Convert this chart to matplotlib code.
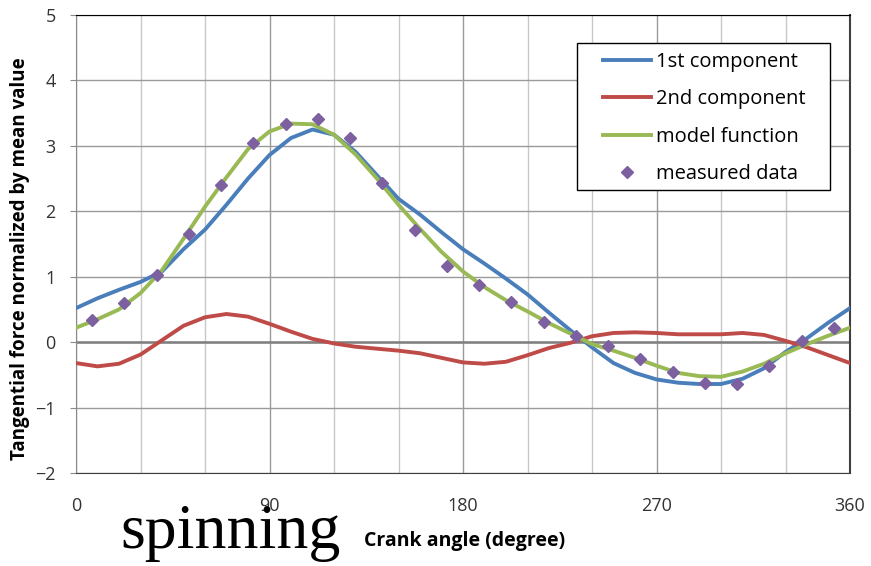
import numpy as np
import matplotlib.pyplot as plt
from matplotlib.ticker import MultipleLocator
from matplotlib.patches import Rectangle

# crank angle for the curves (every 10 degrees)
angle = list(range(0, 361, 10))
first_comp = [0.52, 0.67, 0.80, 0.92, 1.08, 1.42, 1.72, 2.10, 2.50, 2.86,
              3.12, 3.25, 3.17, 2.91, 2.55, 2.19, 1.95, 1.68, 1.42, 1.20,
              0.97, 0.73, 0.45, 0.18, -0.08, -0.32, -0.47, -0.57, -0.62, -0.64,
              -0.64, -0.56, -0.40, -0.15, 0.06, 0.30, 0.52]
second_comp = [-0.32, -0.37, -0.33, -0.19, 0.03, 0.25, 0.38, 0.43, 0.39, 0.28,
               0.16, 0.05, -0.02, -0.07, -0.10, -0.13, -0.17, -0.24, -0.31, -0.33,
               -0.30, -0.20, -0.09, -0.01, 0.09, 0.14, 0.15, 0.14, 0.12, 0.12,
               0.12, 0.14, 0.11, 0.02, -0.08, -0.20, -0.32]
model_func = [0.22, 0.35, 0.50, 0.75, 1.10, 1.58, 2.07, 2.52, 2.95, 3.22,
              3.34, 3.33, 3.17, 2.87, 2.50, 2.10, 1.73, 1.38, 1.08, 0.84,
              0.64, 0.47, 0.29, 0.13, -0.03, -0.13, -0.24, -0.36, -0.47, -0.52,
              -0.53, -0.45, -0.33, -0.17, -0.03, 0.10, 0.22]

# measured points (every 15 degrees, offset 7.5)
meas_angle = [7.5 + 15 * i for i in range(24)]
measured = [0.34, 0.60, 1.02, 1.65, 2.40, 3.04, 3.33, 3.41, 3.12, 2.43,
            1.71, 1.17, 0.88, 0.62, 0.31, 0.09, -0.06, -0.25, -0.45, -0.63,
            -0.64, -0.37, 0.01, 0.21]

W, H = 871, 566
fig = plt.figure(figsize=(W / 100, H / 100), dpi=100)
ax = fig.add_axes([76 / W, 1 - 473 / H, (850 - 76) / W, (473 - 15) / H])

ax.plot(angle, first_comp, color="#4A7EBB", lw=2.8, label="1st component", zorder=3)
ax.plot(angle, second_comp, color="#BE4B48", lw=2.8, label="2nd component", zorder=3)
ax.plot(angle, model_func, color="#98B954", lw=2.8, label="model function", zorder=4)
ax.plot(meas_angle, measured, ls="none", marker="D", ms=6.5, color="#7D60A0",
        label="measured data", zorder=5)

ax.set_xlim(0, 360)
ax.set_ylim(-2, 5)
ax.xaxis.set_major_locator(MultipleLocator(90))
ax.xaxis.set_minor_locator(MultipleLocator(30))
ax.yaxis.set_major_locator(MultipleLocator(1))
ax.grid(which="major", axis="x", color="#9a9a9a", lw=1.0)
ax.grid(which="minor", axis="x", color="#c8c8c8", lw=1.0)
ax.grid(which="major", axis="y", color="#9a9a9a", lw=1.0)
ax.axhline(0, color="#7f7f7f", lw=1.8, zorder=2)
ax.set_axisbelow(True)

ax.tick_params(axis="x", which="both", length=0, pad=17, labelsize=13, labelcolor="#333333")
ax.tick_params(axis="y", length=4.5, color="#8a8a8a", pad=10, labelsize=13, labelcolor="#333333")
for lab in ax.get_xticklabels() + ax.get_yticklabels():
    lab.set_family("Open Sans")

ax.spines["top"].set_color("black")
ax.spines["right"].set_color("#404040")
ax.spines["right"].set_linewidth(1.5)
ax.spines["left"].set_color("#8a8a8a")
ax.spines["bottom"].set_color("#404040")

ax.set_ylabel("Tangential force normalized by mean value", fontsize=13.5,
              fontweight="bold", family="Open Sans")
ax.yaxis.set_label_coords((30 - 76) / 774, (473 - 259) / 458)
fig.text(465 / W, 1 - 541 / H, "Crank angle (degree)", fontsize=14,
         fontweight="bold", family="Open Sans", ha="center", va="center")

# legend box drawn as a plain rectangle, entries placed inside it
ax.add_patch(Rectangle((577 / W, 1 - 190 / H), (830 - 577) / W, (190 - 43) / H,
                       transform=fig.transFigure, facecolor="white",
                       edgecolor="black", lw=1.0, zorder=6, clip_on=False))
leg = ax.legend(loc="upper left", bbox_to_anchor=(603 / W, 1 - 52 / H),
                bbox_transform=fig.transFigure, frameon=False, handlelength=2.4,
                handletextpad=0.25, borderpad=0, borderaxespad=0, labelspacing=0.86,
                prop={"family": "Open Sans", "size": 14.5})
leg.set_zorder(7)

fig.text(120 / W, 1 - 548 / H, "spinning", family="Liberation Serif",
         fontsize=46, ha="left", va="baseline", color="black")

plt.savefig("out.png", dpi=100)
